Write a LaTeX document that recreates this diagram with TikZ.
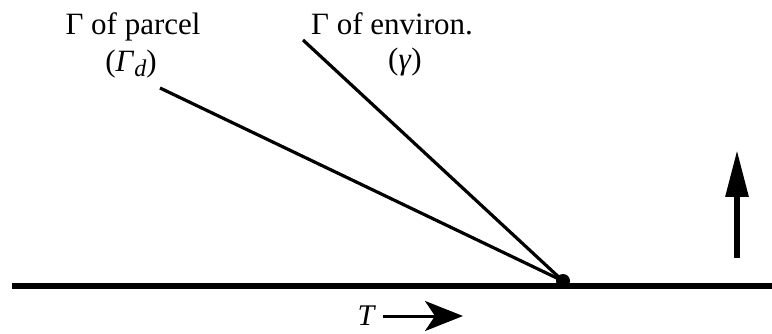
\documentclass[tikz,border=0pt]{standalone}
\usepackage{fontspec}
\setmainfont{Liberation Serif}
\usetikzlibrary{arrows.meta, positioning}

\begin{document}
\begin{tikzpicture}[
  x=1pt, y=-1pt,
  lbl/.style = {anchor=base, inner sep=0pt, font=\rmfamily\fontsize{31}{34}\selectfont},
  slope/.style = {line width=3.2pt},
  ground/.style = {line width=5.5pt}
]
  \useasboundingbox (0,0) rectangle (772,334);

  % labels
  \node[lbl] (plab) at (133,35) {Γ of parcel};
  \node[lbl] (psym) at (131,72) {(\textit{Γ}\raisebox{-0.3ex}{\fontsize{24}{24}\selectfont\textit{d}})};
  \node[lbl] (elab) at (392,35) {Γ of environ.};
  \node[lbl] (esym) at (405,70) {(\textit{γ})};

  % ground and the two lines
  \coordinate (gl) at (12,286);
  \coordinate (gr) at (772,286);
  \draw[ground] (gl) -- (gr);

  \node[circle, fill, inner sep=0pt, minimum size=14pt] (pt) at (563,281) {};
  \coordinate (pend) at (160,88);
  \coordinate (eend) at (303,40);
  \draw[slope] (pt.center) -- (pend);
  \draw[slope] (pt.center) -- (eend);

  % up arrow
  \coordinate (ubot) at (737,258);
  \coordinate (utop) at (737,150);
  \draw[line width=6pt, -{Triangle[length=47pt, width=22pt]}] (ubot) -- (utop);

  % T axis
  \node[lbl, font=\rmfamily\fontsize{30}{32}\selectfont\itshape] (tlab) at (366,325) {T};
  \coordinate (tend) at (463,316);
  \draw[line width=3pt, -{Stealth[length=38pt, width=30pt, inset=10pt]}] (383,316) -- (tend);
\end{tikzpicture}
\end{document}
